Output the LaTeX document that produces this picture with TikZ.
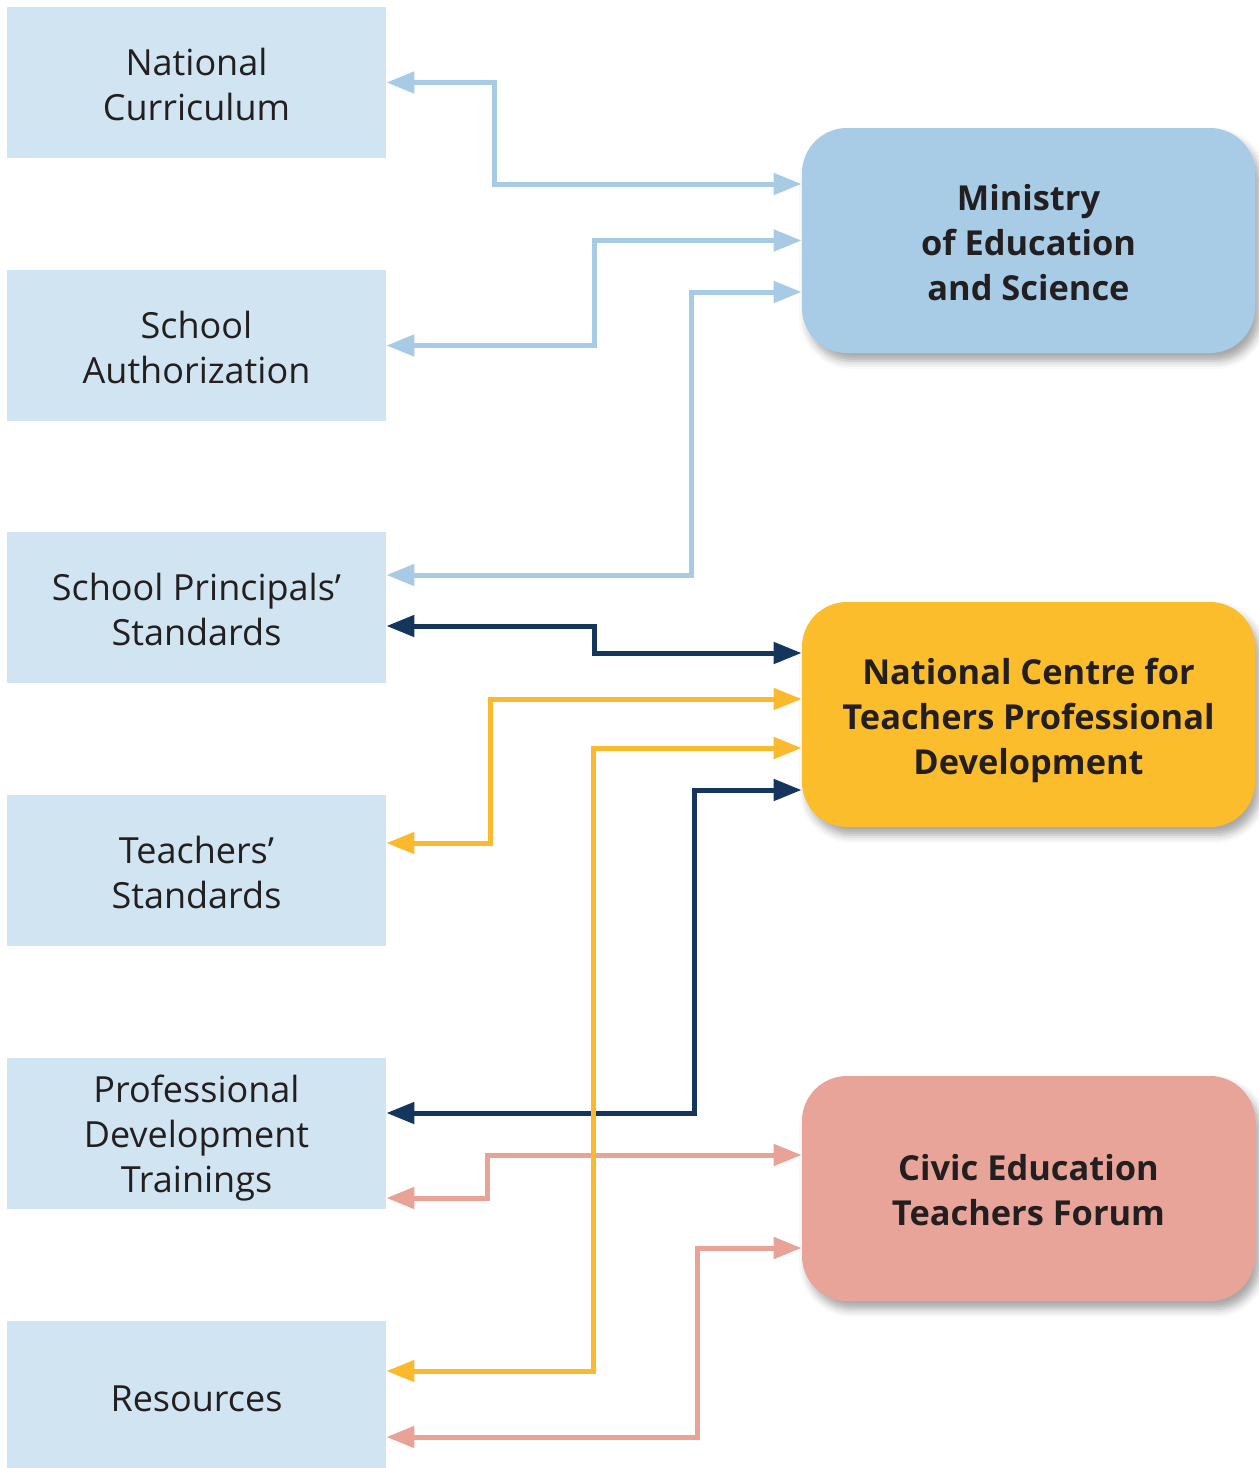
\documentclass[tikz,border=0pt]{standalone}
\usepackage{fontspec}
\setmainfont{Open Sans}
\usetikzlibrary{arrows.meta,shadows.blur}

\definecolor{leftfill}{HTML}{D0E4F1}
\definecolor{minfill}{HTML}{A8CCE6}
\definecolor{ncfill}{HTML}{FBBD2B}
\definecolor{cefill}{HTML}{E8A498}
\definecolor{txt}{HTML}{231F20}
\definecolor{lblue}{HTML}{A7CBE5}
\definecolor{navy}{HTML}{14365C}
\definecolor{yell}{HTML}{FBBA2D}
\definecolor{pink}{HTML}{E8A396}

\tikzset{
  topic/.style={fill=leftfill, minimum width=189.5pt, minimum height=75.5pt, inner sep=0pt},
  topictext/.style={inner sep=0pt, align=center, text=txt,
    font=\fontsize{18}{22.5}\selectfont},
  agency/.style={rounded corners=22.5pt, minimum width=226.5pt, minimum height=112.5pt,
    inner sep=0pt,
    blur shadow={shadow xshift=2.5pt, shadow yshift=-4pt, shadow blur radius=4pt, shadow opacity=35}},
  agencytext/.style={inner sep=0pt, align=center, text=txt,
    font=\fontsize{17.2}{22.5}\selectfont\bfseries},
  link/.style={line width=2.5pt, {Triangle[length=14pt,width=10.5pt]}-{Triangle[length=14pt,width=10.5pt]}}
}

\begin{document}
\begin{tikzpicture}[x=0.5pt, y=-0.5pt]
\useasboundingbox (0,0) rectangle (1259,1468);

% topic boxes on the left
\node[topic] (nc) at (196.5,82.5)   {};
\node[topic] (sa) at (196.5,345.5)  {};
\node[topic] (sp) at (196.5,607.5)  {};
\node[topic] (ts) at (196.5,870.5)  {};
\node[topic] (pd) at (196.5,1133.5) {};
\node[topic] (rs) at (196.5,1396.5) {};

\node[topictext] (nc-t) at ([yshift=-1.2pt]nc.center) {National\\Curriculum};
\node[topictext] (sa-t) at ([yshift=-1pt]sa.center)   {School\\Authorization};
\node[topictext] (sp-t) at ([yshift=-1pt]sp.center)   {School Principals’\\Standards};
\node[topictext] (ts-t) at ([yshift=-1pt]ts.center)   {Teachers’\\Standards};
\node[topictext] (pd-t) at ([yshift=-2.5pt]pd.center) {Professional\\Development\\Trainings};
\node[topictext] (rs-t) at ([yshift=-1pt]rs.center)   {Resources};

% agencies on the right
\node[agency, fill=minfill] (mes) at (1028.5,240.5)  {};
\node[agency, fill=ncfill]  (ncp) at (1028.5,714.5)  {};
\node[agency, fill=cefill]  (cef) at (1028.5,1188.5) {};

\node[agencytext] (mes-t) at ([yshift=-1pt]mes.center) {Ministry\\of Education\\and Science};
\node[agencytext] (ncp-t) at ([yshift=-3pt]ncp.center) {National Centre for\\Teachers Professional\\Development};
\node[agencytext] (cef-t) at ([yshift=-1pt]cef.center) {Civic Education\\Teachers Forum};

% vertical runs of the connectors
\coordinate (x1) at (494,0);
\coordinate (x2) at (594,0);
\coordinate (x3) at (691,0);
\coordinate (x4) at (594,0);
\coordinate (x5) at (490,0);
\coordinate (x6) at (593,0);
\coordinate (x7) at (694,0);
\coordinate (x8) at (487,0);
\coordinate (x9) at (697,0);

% Ministry links
\draw[link, lblue] (nc.east) -- (nc.east -| x1) |- ([yshift=28.25pt]mes.west);
\draw[link, lblue] (sa.east) -- (sa.east -| x2) |- (mes.west);
\draw[link, lblue] ([yshift=16.25pt]sp.east) -- ([yshift=16.25pt]sp.east -| x3) |- ([yshift=-25.75pt]mes.west);

% National Centre links
\draw[link, navy] ([yshift=-9.25pt]sp.east) -- ([yshift=-9.25pt]sp.east -| x4) |- ([yshift=30.75pt]ncp.west);
\draw[link, navy] ([yshift=10.25pt]pd.east) -- ([yshift=10.25pt]pd.east -| x7) |- ([yshift=-37.75pt]ncp.west);

% Civic Education Forum links
\draw[link, pink] ([yshift=-32.25pt]pd.east) -- ([yshift=-32.25pt]pd.east -| x8) |- ([yshift=16.75pt]cef.west);
\draw[link, pink] ([yshift=-20.25pt]rs.east) -- ([yshift=-20.25pt]rs.east -| x9) |- ([yshift=-29.75pt]cef.west);

\draw[link, yell] ([yshift=13.75pt]ts.east) -- ([yshift=13.75pt]ts.east -| x5) |- ([yshift=7.75pt]ncp.west);
\draw[link, yell] ([yshift=12.75pt]rs.east) -- ([yshift=12.75pt]rs.east -| x6) |- ([yshift=-16.75pt]ncp.west);
\end{tikzpicture}
\end{document}
